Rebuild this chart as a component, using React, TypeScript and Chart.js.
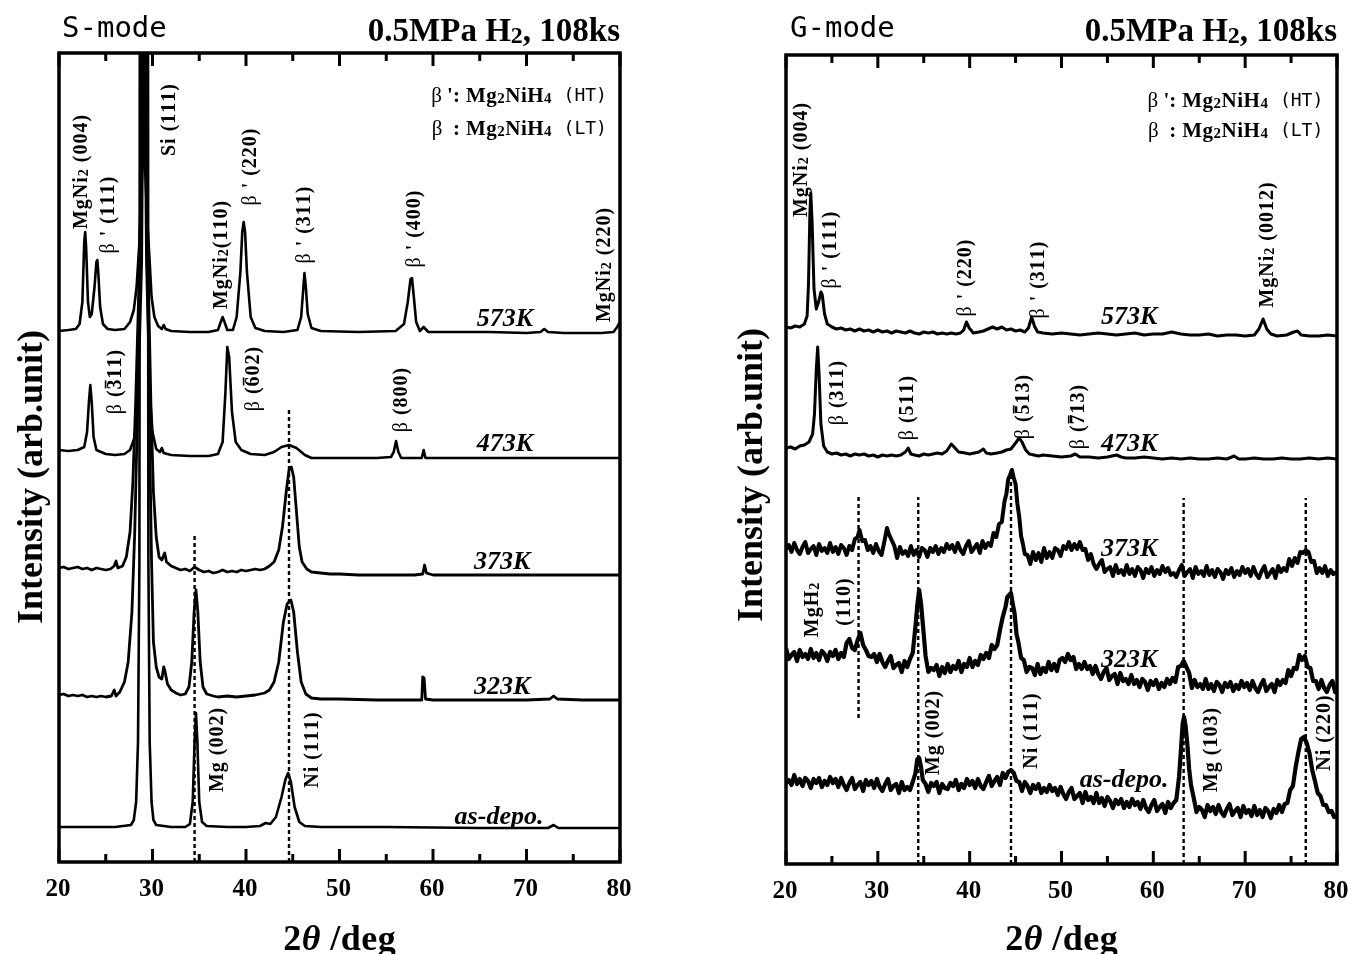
import React, { useEffect, useRef } from "react";
import { Chart, registerables } from "chart.js";
Chart.register(...registerables);

type P = [number, number];

// ---------- axis ----------
const X_MIN = 20;
const X_MAX = 80;
const Y_MAX = 809;
const MAJOR_TICKS = [20, 30, 40, 50, 60, 70, 80];
const MINOR_TICKS = [25, 35, 45, 55, 65, 75];
const TICK_LABELS = ["20", "30", "40", "50", "60", "70", "80"];

// ---------- S-mode spectra ----------
const S_573K: P[] = [
  [20, 531], [21, 532], [21.8, 533], [22.2, 538], [22.5, 560], [22.7, 620], [22.8, 630], [22.9, 615], [23.1, 560], [23.3, 545],
  [23.5, 548], [23.8, 575], [24.0, 600], [24.1, 602], [24.2, 590], [24.4, 555], [24.7, 538], [25.2, 533], [26, 532], [27, 533],
  [27.6, 540], [28.0, 552], [28.3, 575], [28.6, 620], [28.95, 700], [29.02, 1600], [29.12, 1600], [29.18, 700], [29.45, 640], [29.7, 600],
  [29.9, 565], [30.2, 545], [30.6, 536], [31.0, 533], [31.2, 537], [31.4, 533], [32, 531], [34, 530], [36, 530], [37.0, 532],
  [37.3, 540], [37.5, 545], [37.7, 540], [38.0, 532], [38.6, 532], [39.0, 545], [39.4, 590], [39.6, 630], [39.75, 640], [39.9, 630],
  [40.1, 590], [40.5, 545], [41, 534], [42, 531], [44, 530], [45.5, 532], [45.9, 545], [46.1, 570], [46.25, 589], [46.4, 575],
  [46.6, 548], [47.0, 534], [48, 531], [52, 530], [56, 531], [56.9, 538], [57.3, 560], [57.6, 583], [57.75, 584], [57.95, 565],
  [58.2, 540], [58.6, 531], [59.0, 535], [59.2, 533], [59.5, 530], [62, 530], [66, 530], [70, 529], [71.5, 530], [71.9, 533],
  [72.3, 530], [74, 529], [78, 529], [79.3, 530], [79.7, 535], [80, 540],
];
const S_473K: P[] = [
  [20, 412], [21, 411], [22, 412], [22.7, 415], [23.0, 430], [23.2, 460], [23.35, 477], [23.5, 460], [23.7, 425], [24.0, 412],
  [25, 408], [26, 407], [27, 408], [27.6, 412], [28.1, 425], [28.5, 480], [28.85, 600], [28.92, 700], [28.98, 1600], [29.2, 1600],
  [29.26, 700], [29.35, 600], [29.7, 470], [30.0, 430], [30.4, 413], [30.8, 410], [31.0, 414], [31.2, 409], [32, 407], [34, 406],
  [36, 406], [37.0, 408], [37.5, 420], [37.8, 470], [38.0, 515], [38.2, 505], [38.5, 450], [38.9, 420], [39.5, 412], [40.5, 408],
  [42, 407], [43, 410], [43.8, 415], [44.6, 417], [45.4, 414], [46.3, 407], [47, 404], [50, 404], [54, 404], [55.5, 405],
  [55.8, 410], [56.05, 421], [56.3, 410], [56.6, 404], [58.8, 404], [59.0, 412], [59.2, 404], [62, 404], [70, 404], [80, 404],
];
const S_373K: P[] = [
  [20, 294], [20.5, 295], [21, 293], [21.5, 294], [22, 295], [22.5, 293], [23, 294], [23.5, 292], [24, 294], [24.5, 293],
  [25, 292], [25.5, 293], [25.9, 296], [26.1, 301], [26.3, 294], [26.8, 296], [27.2, 305], [27.6, 330], [27.9, 380], [28.2, 460],
  [28.5, 560], [28.82, 700], [28.9, 1600], [29.28, 1600], [29.36, 700], [29.6, 560], [29.85, 450], [30.1, 370], [30.4, 325], [30.7, 305],
  [31.0, 302], [31.3, 309], [31.5, 300], [32, 296], [32.5, 294], [33, 292], [33.5, 293], [34, 291], [34.5, 295], [35, 292],
  [35.5, 290], [36, 291], [36.5, 289], [37, 290], [37.5, 292], [38, 290], [38.5, 291], [39, 290], [39.5, 292], [40, 291],
  [40.5, 292], [41, 293], [41.5, 292], [42, 293], [42.5, 296], [43, 300], [43.5, 312], [43.9, 335], [44.3, 370], [44.6, 392],
  [44.85, 395], [45.1, 385], [45.4, 350], [45.7, 315], [46.0, 300], [46.5, 293], [47, 290], [48, 289], [49, 288], [50, 288],
  [52, 287], [54, 287], [56, 287], [58, 287], [58.9, 288], [59.1, 297], [59.3, 289], [60, 287], [65, 287], [70, 287],
  [75, 287], [80, 287],
];
const S_323K: P[] = [
  [20, 167], [20.5, 168], [21, 166], [21.5, 167], [22, 166], [22.5, 167], [23, 165], [23.5, 166], [24, 165], [24.5, 166],
  [25, 165], [25.6, 166], [25.9, 172], [26.1, 166], [26.5, 170], [27.0, 180], [27.4, 200], [27.8, 250], [28.1, 330], [28.4, 450],
  [28.74, 620], [28.84, 1600], [29.36, 1600], [29.48, 600], [29.7, 420], [29.9, 300], [30.1, 220], [30.4, 195], [30.7, 185], [31.0, 183],
  [31.2, 195], [31.35, 190], [31.6, 178], [32, 172], [32.5, 169], [33, 167], [33.5, 168], [33.9, 175], [34.2, 200], [34.45, 250],
  [34.65, 272], [34.85, 250], [35.1, 200], [35.4, 175], [35.8, 168], [36.5, 166], [37, 165], [38, 166], [39, 165], [40, 166],
  [41, 167], [42, 169], [42.5, 172], [43, 180], [43.5, 200], [44.0, 240], [44.4, 258], [44.8, 262], [45.1, 250], [45.5, 210],
  [45.9, 180], [46.4, 168], [47, 164], [48, 163], [50, 163], [54, 162], [56, 162], [58, 162], [58.8, 162], [58.9, 185],
  [59.05, 184], [59.2, 163], [60, 162], [65, 162], [70, 162], [72.5, 163], [72.9, 166], [73.3, 163], [76, 162], [80, 162],
];
const S_ASDEPO: P[] = [
  [20, 35], [22, 35], [24, 35], [26, 35], [27.7, 37], [28.0, 42], [28.25, 60], [28.45, 120], [28.6, 300], [28.7, 1600],
  [29.46, 1600], [29.56, 300], [29.7, 120], [29.9, 60], [30.1, 42], [30.4, 37], [32, 35], [33.5, 35], [34.0, 38], [34.3, 60],
  [34.5, 120], [34.65, 149], [34.8, 120], [35.0, 60], [35.3, 40], [35.8, 36], [38, 35], [40, 35], [41.5, 36], [42.1, 39],
  [42.6, 38], [43.2, 45], [43.8, 65], [44.2, 82], [44.5, 89], [44.8, 80], [45.2, 55], [45.7, 40], [46.3, 36], [48, 35],
  [55, 35], [65, 34], [72.3, 34], [72.9, 37], [73.4, 34], [80, 34],
];
// reference lines: [2theta, from, to]
const S_DOTTED: [number, number, number][] = [[34.5, 0, 327], [44.6, 0, 455]];

// ---------- G-mode spectra ----------
const G_573K: P[] = [
  [20, 537], [20.5, 536], [21, 538], [21.5, 537], [22, 540], [22.3, 548], [22.45, 580], [22.6, 650], [22.7, 671], [22.85, 640],
  [23.05, 575], [23.3, 555], [23.55, 562], [23.8, 572], [23.95, 569], [24.2, 550], [24.5, 540], [25, 537], [25.5, 535], [26, 536],
  [26.5, 534], [27, 535], [27.5, 533], [28, 535], [28.5, 533], [29, 534], [29.5, 532], [30, 534], [30.5, 532], [31, 533],
  [31.5, 531], [32, 533], [32.5, 532], [33, 531], [33.5, 533], [34, 531], [34.5, 530], [35, 532], [35.5, 531], [36, 532],
  [36.5, 530], [37, 531], [37.5, 530], [38, 531], [38.5, 530], [39, 531], [39.35, 534], [39.65, 542], [39.95, 536], [40.4, 531],
  [41, 532], [41.5, 533], [42, 535], [42.5, 537], [43, 535], [43.5, 537], [44, 534], [44.5, 535], [45, 533], [45.5, 534],
  [46, 532], [46.4, 536], [46.75, 547], [47.05, 538], [47.4, 532], [48, 531], [49, 530], [50, 531], [51, 530], [52, 529],
  [53, 530], [54, 531], [55, 530], [56, 529], [57, 530], [58, 531], [59, 529], [60, 530], [61, 530], [62, 532],
  [63, 530], [64, 529], [65, 529], [66, 530], [67, 528], [68, 529], [69, 529], [70, 528], [71, 529], [71.5, 535],
  [71.95, 545], [72.35, 535], [72.8, 530], [73.5, 528], [74.5, 529], [75.3, 532], [75.7, 533], [76.1, 529], [77, 528], [78, 528],
  [79, 529], [80, 528],
];
const G_473K: P[] = [
  [20, 416], [20.5, 417], [21, 415], [21.5, 418], [22, 419], [22.5, 422], [22.9, 430], [23.1, 450], [23.3, 495], [23.45, 517],
  [23.6, 490], [23.8, 440], [24.1, 418], [24.5, 412], [25, 410], [25.5, 411], [26, 409], [26.5, 410], [27, 408], [27.5, 410],
  [28, 409], [28.5, 410], [29, 408], [29.5, 409], [30, 407], [30.5, 409], [31, 408], [31.5, 409], [32, 408], [32.5, 409],
  [33.0, 412], [33.3, 416], [33.6, 410], [34, 409], [34.5, 408], [35, 410], [35.5, 409], [36, 410], [36.5, 411], [37, 410],
  [37.5, 413], [38.0, 420], [38.4, 416], [38.8, 412], [39.5, 411], [40, 410], [40.5, 411], [41, 412], [41.5, 415], [41.8, 411],
  [42.3, 410], [43, 411], [43.5, 412], [44, 414], [44.5, 415], [45.0, 421], [45.4, 426], [45.7, 422], [46.1, 414], [46.5, 410],
  [47, 409], [47.5, 408], [48, 409], [49, 408], [50, 407], [51, 408], [51.5, 410], [52, 407], [53, 407], [54, 406],
  [55, 407], [56, 409], [56.5, 407], [57, 406], [58, 406], [59, 407], [60, 406], [61, 405], [62, 406], [63, 405],
  [64, 406], [65, 405], [66, 405], [67, 406], [68, 405], [68.8, 408], [69.3, 405], [70, 405], [71, 406], [72, 405],
  [73, 405], [74, 406], [75, 405], [76, 405], [77, 406], [78, 405], [79, 406], [80, 405],
];
const G_373K: P[] = [
  [20.0, 315], [20.3, 319], [20.6, 312], [20.9, 321], [21.2, 314], [21.5, 310], [21.8, 317], [22.1, 322], [22.4, 311], [22.7, 315],
  [23.0, 318], [23.3, 309], [23.6, 320], [23.9, 313], [24.2, 316], [24.5, 311], [24.8, 321], [25.1, 312], [25.4, 317], [25.7, 310],
  [26.0, 319], [26.3, 316], [26.6, 309], [26.9, 318], [27.2, 314], [27.5, 325], [27.8, 327], [28.0, 334], [28.3, 323], [28.6, 324],
  [28.9, 314], [29.2, 318], [29.5, 311], [29.8, 320], [30.1, 313], [30.4, 309], [30.7, 322], [31.0, 336], [31.2, 330], [31.5, 324],
  [31.8, 318], [32.1, 306], [32.4, 317], [32.7, 310], [33.0, 313], [33.3, 308], [33.6, 318], [33.9, 309], [34.2, 314], [34.5, 307],
  [34.8, 316], [35.1, 314], [35.4, 307], [35.7, 316], [36.0, 312], [36.3, 318], [36.6, 310], [36.9, 316], [37.2, 312], [37.5, 320],
  [37.8, 315], [38.1, 319], [38.4, 312], [38.7, 321], [39.0, 314], [39.3, 310], [39.6, 318], [39.9, 323], [40.2, 312], [40.5, 316],
  [40.8, 320], [41.1, 311], [41.4, 323], [41.7, 316], [42.0, 321], [42.3, 318], [42.6, 331], [42.9, 327], [43.2, 340], [43.5, 342],
  [43.8, 363], [44.0, 370], [44.2, 385], [44.4, 389], [44.6, 394], [44.8, 386], [45.0, 380], [45.2, 360], [45.4, 347], [45.6, 328],
  [45.8, 320], [46.0, 310], [46.3, 309], [46.6, 300], [46.9, 312], [47.2, 304], [47.5, 311], [47.8, 302], [48.1, 316], [48.4, 306],
  [48.7, 312], [49.0, 306], [49.3, 316], [49.6, 314], [49.9, 308], [50.2, 318], [50.5, 315], [50.8, 322], [51.1, 314], [51.4, 320],
  [51.7, 315], [52.0, 322], [52.3, 314], [52.6, 315], [52.9, 304], [53.2, 310], [53.5, 300], [53.8, 295], [54.1, 300], [54.4, 304],
  [54.7, 292], [55.0, 295], [55.3, 297], [55.6, 288], [55.9, 299], [56.2, 291], [56.5, 294], [56.8, 289], [57.1, 299], [57.4, 290],
  [57.7, 295], [58.0, 288], [58.3, 297], [58.6, 294], [58.9, 286], [59.2, 295], [59.5, 291], [59.8, 297], [60.1, 288], [60.4, 294],
  [60.7, 290], [61.0, 298], [61.3, 292], [61.6, 296], [61.9, 289], [62.2, 291], [62.5, 287], [62.8, 294], [63.1, 299], [63.4, 288],
  [63.7, 292], [64.0, 295], [64.3, 286], [64.6, 297], [64.9, 290], [65.2, 293], [65.5, 288], [65.8, 298], [66.1, 289], [66.4, 294],
  [66.7, 287], [67.0, 295], [67.3, 292], [67.6, 285], [67.9, 294], [68.2, 290], [68.5, 296], [68.8, 287], [69.1, 293], [69.4, 289],
  [69.7, 297], [70.0, 291], [70.3, 295], [70.6, 288], [70.9, 297], [71.2, 290], [71.5, 286], [71.8, 293], [72.1, 298], [72.4, 287],
  [72.7, 291], [73.0, 295], [73.3, 286], [73.6, 298], [73.9, 292], [74.2, 296], [74.5, 293], [74.8, 305], [75.1, 298], [75.4, 306],
  [75.7, 301], [76.0, 312], [76.3, 311], [76.6, 314], [76.9, 312], [77.2, 302], [77.5, 303], [77.8, 291], [78.1, 296], [78.4, 291],
  [78.7, 298], [79.0, 288], [79.3, 294], [79.6, 290], [80.0, 292],
];
const G_323K: P[] = [
  [20.0, 216], [20.3, 205], [20.6, 209], [20.9, 212], [21.2, 203], [21.5, 214], [21.8, 207], [22.1, 210], [22.4, 205], [22.7, 215],
  [23.0, 206], [23.3, 211], [23.6, 204], [23.9, 213], [24.2, 210], [24.5, 203], [24.8, 212], [25.1, 208], [25.4, 214], [25.7, 205],
  [26.0, 211], [26.3, 207], [26.6, 221], [26.9, 225], [27.2, 216], [27.5, 214], [27.8, 224], [28.1, 231], [28.4, 219], [28.7, 214],
  [29.0, 208], [29.3, 207], [29.6, 210], [29.9, 202], [30.2, 210], [30.5, 202], [30.8, 197], [31.1, 203], [31.4, 208], [31.7, 196],
  [32.0, 199], [32.3, 201], [32.6, 192], [32.9, 203], [33.2, 197], [33.5, 205], [33.8, 211], [34.1, 238], [34.3, 259], [34.5, 274],
  [34.7, 261], [34.9, 240], [35.2, 208], [35.5, 192], [35.8, 196], [36.1, 194], [36.4, 199], [36.7, 188], [37.0, 197], [37.3, 191],
  [37.6, 200], [37.9, 192], [38.2, 198], [38.5, 195], [38.8, 203], [39.1, 192], [39.4, 200], [39.7, 197], [40.0, 206], [40.3, 197],
  [40.6, 203], [40.9, 199], [41.2, 209], [41.5, 205], [41.8, 211], [42.1, 206], [42.4, 219], [42.7, 215], [43.0, 219], [43.3, 234],
  [43.6, 247], [43.9, 257], [44.1, 267], [44.3, 269], [44.5, 271], [44.7, 260], [44.9, 250], [45.1, 230], [45.3, 222], [45.6, 206],
  [45.9, 204], [46.2, 192], [46.5, 197], [46.8, 196], [47.1, 189], [47.4, 200], [47.7, 190], [48.0, 196], [48.3, 192], [48.6, 202],
  [48.9, 194], [49.2, 200], [49.5, 193], [49.8, 204], [50.1, 206], [50.4, 202], [50.7, 210], [51.0, 204], [51.3, 207], [51.6, 195],
  [51.9, 200], [52.2, 195], [52.5, 202], [52.8, 195], [53.1, 198], [53.4, 190], [53.7, 198], [54.0, 190], [54.3, 185], [54.6, 192],
  [54.9, 196], [55.2, 184], [55.5, 188], [55.8, 190], [56.1, 180], [56.4, 191], [56.7, 183], [57.0, 185], [57.3, 180], [57.6, 189],
  [57.9, 180], [58.2, 184], [58.5, 177], [58.8, 185], [59.1, 182], [59.4, 174], [59.7, 183], [60.0, 179], [60.3, 184], [60.6, 175],
  [60.9, 181], [61.2, 177], [61.5, 185], [61.8, 180], [62.1, 186], [62.4, 182], [62.7, 197], [63.0, 198], [63.3, 203], [63.6, 197],
  [63.9, 191], [64.2, 176], [64.5, 184], [64.8, 177], [65.1, 180], [65.4, 175], [65.7, 185], [66.0, 175], [66.3, 180], [66.6, 173],
  [66.9, 182], [67.2, 179], [67.5, 172], [67.8, 181], [68.1, 177], [68.4, 182], [68.7, 173], [69.0, 179], [69.3, 175], [69.6, 183],
  [69.9, 177], [70.2, 181], [70.5, 174], [70.8, 183], [71.1, 176], [71.4, 172], [71.7, 179], [72.0, 184], [72.3, 173], [72.6, 177],
  [72.9, 180], [73.2, 172], [73.5, 184], [73.8, 179], [74.1, 184], [74.4, 181], [74.7, 194], [75.0, 188], [75.3, 196], [75.6, 195],
  [75.9, 209], [76.2, 204], [76.5, 208], [76.8, 197], [77.1, 196], [77.4, 183], [77.7, 183], [78.0, 175], [78.3, 184], [78.6, 176],
  [78.9, 172], [79.2, 179], [79.5, 183], [79.8, 172], [80.0, 176],
];
const G_ASDEPO: P[] = [
  [20.0, 81], [20.3, 84], [20.6, 79], [20.9, 89], [21.2, 80], [21.5, 85], [21.8, 78], [22.1, 86], [22.4, 83], [22.7, 76],
  [23.0, 85], [23.3, 81], [23.6, 86], [23.9, 77], [24.2, 83], [24.5, 79], [24.8, 87], [25.1, 81], [25.4, 85], [25.7, 77],
  [26.0, 86], [26.3, 79], [26.6, 74], [26.9, 81], [27.2, 86], [27.5, 75], [27.8, 79], [28.1, 82], [28.4, 73], [28.7, 84],
  [29.0, 79], [29.3, 83], [29.6, 76], [29.9, 85], [30.2, 77], [30.5, 73], [30.8, 80], [31.1, 85], [31.4, 74], [31.7, 78],
  [32.0, 80], [32.3, 71], [32.6, 82], [32.9, 74], [33.2, 77], [33.5, 74], [33.8, 82], [34.1, 91], [34.3, 105], [34.5, 106],
  [34.7, 97], [34.9, 84], [35.2, 80], [35.5, 72], [35.8, 81], [36.1, 78], [36.4, 82], [36.7, 71], [37.0, 80], [37.3, 76],
  [37.6, 75], [37.9, 81], [38.2, 78], [38.5, 84], [38.8, 74], [39.1, 80], [39.4, 76], [39.7, 85], [40.0, 79], [40.3, 83],
  [40.6, 76], [40.9, 85], [41.2, 78], [41.5, 75], [41.8, 82], [42.1, 88], [42.4, 78], [42.7, 83], [43.0, 87], [43.3, 79],
  [43.6, 91], [43.9, 86], [44.2, 92], [44.5, 94], [44.8, 91], [45.1, 83], [45.4, 82], [45.7, 73], [46.0, 82], [46.3, 78],
  [46.6, 71], [46.9, 79], [47.2, 75], [47.5, 80], [47.8, 71], [48.1, 76], [48.4, 72], [48.7, 79], [49.0, 73], [49.3, 76],
  [49.6, 69], [49.9, 77], [50.2, 70], [50.5, 65], [50.8, 72], [51.1, 76], [51.4, 65], [51.7, 68], [52.0, 71], [52.3, 61],
  [52.6, 72], [52.9, 64], [53.2, 67], [53.5, 61], [53.8, 71], [54.1, 61], [54.4, 66], [54.7, 58], [55.0, 67], [55.3, 63],
  [55.6, 56], [55.9, 64], [56.2, 60], [56.5, 65], [56.8, 56], [57.1, 62], [57.4, 57], [57.7, 65], [58.0, 59], [58.3, 62],
  [58.6, 55], [58.9, 64], [59.2, 56], [59.5, 52], [59.8, 59], [60.1, 64], [60.4, 53], [60.7, 57], [61.0, 60], [61.3, 51],
  [61.6, 62], [61.9, 56], [62.2, 61], [62.5, 64], [62.8, 87], [63.0, 113], [63.2, 141], [63.35, 147], [63.5, 139], [63.7, 120],
  [63.9, 95], [64.1, 79], [64.4, 66], [64.7, 52], [65.0, 57], [65.3, 54], [65.6, 47], [65.9, 59], [66.2, 53], [66.5, 57],
  [66.8, 50], [67.1, 59], [67.4, 52], [67.7, 48], [68.0, 55], [68.3, 60], [68.6, 49], [68.9, 53], [69.2, 56], [69.5, 47],
  [69.8, 58], [70.1, 51], [70.4, 54], [70.7, 48], [71.0, 58], [71.3, 49], [71.6, 54], [71.9, 47], [72.2, 56], [72.5, 53],
  [72.8, 46], [73.1, 55], [73.4, 51], [73.7, 59], [74.0, 52], [74.3, 60], [74.6, 61], [74.9, 74], [75.2, 78], [75.5, 97],
  [75.8, 112], [76.1, 125], [76.4, 127], [76.7, 121], [77.0, 111], [77.3, 94], [77.6, 83], [77.9, 71], [78.2, 68], [78.5, 59],
  [78.8, 59], [79.1, 52], [79.4, 53], [79.7, 47], [80.0, 48],
];
const G_DOTTED: [number, number, number][] = [[27.9, 146, 367], [34.4, 0, 367], [44.5, 0, 394], [63.3, 0, 366], [76.6, 0, 366]];

// ---------- annotations ----------
type Lab = { x: number; y: number; t: string };
const S_PEAK_LABELS: Lab[] = [
  { x: 22.25, y: 690, t: "MgNi_2 (004)" },
  { x: 25.13, y: 647, t: "β ' (111)" },
  { x: 31.66, y: 742, t: "Si (111)" },
  { x: 37.22, y: 607, t: "MgNi_2(110)" },
  { x: 40.32, y: 695, t: "β ' (220)" },
  { x: 46.1, y: 637, t: "β ' (311)" },
  { x: 57.86, y: 633, t: "β ' (400)" },
  { x: 78.18, y: 597, t: "MgNi_2 (220)" },
  { x: 25.88, y: 480, t: "β (~311)" },
  { x: 40.64, y: 483, t: "β (~602)" },
  { x: 56.47, y: 462, t: "β (800)" },
  { x: 36.79, y: 112, t: "Mg (002)" },
  { x: 46.95, y: 112, t: "Ni (111)" },
];
const S_TEMP_LABELS: Lab[] = [
  { x: 67.7, y: 545, t: "573K" },
  { x: 67.7, y: 420, t: "473K" },
  { x: 67.4, y: 302, t: "373K" },
  { x: 67.4, y: 177, t: "323K" },
  { x: 67.06, y: 47, t: "as-depo." },
];
const G_PEAK_LABELS: Lab[] = [
  { x: 21.53, y: 704, t: "MgNi_2 (004)" },
  { x: 24.68, y: 614, t: "β ' (111)" },
  { x: 39.39, y: 586, t: "β ' (220)" },
  { x: 47.34, y: 584, t: "β ' (311)" },
  { x: 72.29, y: 619, t: "MgNi_2 (0012)" },
  { x: 25.45, y: 471, t: "β (311)" },
  { x: 33.07, y: 456, t: "β (511)" },
  { x: 45.71, y: 457, t: "β (~513)" },
  { x: 51.7, y: 447, t: "β (~713)" },
  { x: 22.72, y: 254, t: "MgH_2" },
  { x: 26.21, y: 262, t: "(110)" },
  { x: 35.9, y: 131, t: "Mg (002)" },
  { x: 46.58, y: 133, t: "Ni (111)" },
  { x: 66.19, y: 114, t: "Mg (103)" },
  { x: 78.5, y: 131, t: "Ni (220)" },
];
const G_TEMP_LABELS: Lab[] = [
  { x: 57.36, y: 549, t: "573K" },
  { x: 57.36, y: 422, t: "473K" },
  { x: 57.36, y: 317, t: "373K" },
  { x: 57.36, y: 206, t: "323K" },
  { x: 56.82, y: 86, t: "as-depo." },
];
const LEGEND_ROWS = [
  { sym: "β ':", phase: "Mg_2NiH_4", tag: "(HT)" },
  { sym: "β  :", phase: "Mg_2NiH_4", tag: "(LT)" },
];

const SERIF = "'Liberation Serif', 'Times New Roman', serif";
const MONO = "'DejaVu Sans Mono', monospace";

function drawMarkup(
  ctx: CanvasRenderingContext2D,
  text: string,
  x: number,
  y: number,
  o: { size: number; italic?: boolean; align?: "left" | "center" | "right"; rot?: number; spacing?: number; family?: string; weight?: string }
): number {
  const fam = o.family ?? SERIF;
  const glyphs: { ch: string; font: string; dy: number; bar: boolean; w: number }[] = [];
  let sub = false, bar = false, ital = false;
  for (const ch of text) {
    if (ch === "_") { sub = true; continue; }
    if (ch === "~") { bar = true; continue; }
    if (ch === "*") { ital = true; continue; }
    const size = sub ? Math.round(o.size * 0.72) : o.size;
    const weight = ch === "β" ? "normal" : (o.weight ?? "bold");
    const font = `${o.italic || ital ? "italic " : ""}${weight} ${size}px ${fam}`;
    ctx.font = font;
    glyphs.push({ ch, font, dy: sub ? o.size * 0.06 : 0, bar, w: ctx.measureText(ch).width });
    sub = false; bar = false; ital = false;
  }
  const sp = o.spacing ?? 0;
  const total = glyphs.reduce((s, g) => s + g.w + sp, 0) - sp;
  let cx = o.align === "right" ? -total : o.align === "left" ? 0 : -total / 2;
  ctx.save();
  ctx.translate(x, y);
  ctx.rotate(o.rot ?? 0);
  ctx.textBaseline = "alphabetic";
  ctx.textAlign = "left";
  ctx.fillStyle = "#000";
  const base = o.size * 0.34;
  for (const g of glyphs) {
    ctx.font = g.font;
    ctx.fillText(g.ch, cx, base + g.dy);
    if (g.bar) ctx.fillRect(cx + 1, base - o.size * 0.8, g.w - 2, 1.6);
    cx += g.w + sp;
  }
  ctx.restore();
  return total;
}

type PanelDef = {
  id: string;
  pageLeft: number;
  width: number;
  pad: { left: number; right: number; top: number; bottom: number };
  series: P[][];
  lineWidths: number[];
  dotted: [number, number, number][];
  peakLabels: Lab[];
  tempLabels: Lab[];
  legendX: number;
  legendY: number[];
  mode: string;
  modeX: number;
  yTitleX: number;
  yTitleY: number;
};

const PANELS: PanelDef[] = [
  {
    id: "S", pageLeft: 0, width: 680, pad: { left: 59, right: 60, top: 53, bottom: 92 },
    series: [S_573K, S_473K, S_373K, S_323K, S_ASDEPO], lineWidths: [2.6, 2.6, 2.8, 2.8, 2.6], dotted: S_DOTTED,
    peakLabels: S_PEAK_LABELS, tempLabels: S_TEMP_LABELS, legendX: 78.6, legendY: [767, 734],
    mode: "S-mode", modeX: 62, yTitleX: 30, yTitleY: 477,
  },
  {
    id: "G", pageLeft: 680, width: 668, pad: { left: 106, right: 11, top: 55, bottom: 90 },
    series: [G_573K, G_473K, G_373K, G_323K, G_ASDEPO], lineWidths: [3.0, 3.0, 4.0, 4.2, 4.2], dotted: G_DOTTED,
    peakLabels: G_PEAK_LABELS, tempLabels: G_TEMP_LABELS, legendX: 78.5, legendY: [764, 734],
    mode: "G-mode", modeX: 110, yTitleX: 70, yTitleY: 475,
  },
];

function Panel({ def }: { def: PanelDef }) {
  const ref = useRef<HTMLCanvasElement>(null);
  useEffect(() => {
    const canvas = ref.current;
    if (!canvas) return;
    const datasets: any[] = def.series.map((s, i) => ({
      data: s.map(([x, y]) => ({ x, y })),
      borderColor: "#000",
      borderWidth: def.lineWidths[i],
      pointRadius: 0,
      tension: 0,
      fill: false,
      borderJoinStyle: "round",
    }));
    def.dotted.forEach(([x, a, b]) => {
      datasets.push({
        data: [{ x, y: a }, { x, y: b }],
        borderColor: "#000",
        borderWidth: 2.4,
        borderDash: [4, 3],
        pointRadius: 0,
        fill: false,
      });
    });
    const deco = {
      id: "deco" + def.id,
      afterDatasetsDraw(chart: any) {
        const ctx: CanvasRenderingContext2D = chart.ctx;
        const { left, right, top, bottom } = chart.chartArea;
        const xs = chart.scales.x;
        const ys = chart.scales.y;
        ctx.save();
        ctx.strokeStyle = "#000";
        ctx.fillStyle = "#000";
        // ticks
        ctx.lineWidth = 3;
        const tick = (v: number, len: number) => {
          const px = xs.getPixelForValue(v);
          ctx.beginPath();
          ctx.moveTo(px, bottom);
          ctx.lineTo(px, bottom - len);
          ctx.moveTo(px, top);
          ctx.lineTo(px, top + len);
          ctx.stroke();
        };
        MAJOR_TICKS.forEach((v) => tick(v, 13));
        MINOR_TICKS.forEach((v) => tick(v, 8));
        // frame
        ctx.lineWidth = 3.5;
        ctx.strokeRect(left, top, right - left, bottom - top);
        // tick labels
        MAJOR_TICKS.forEach((v, i) => {
          drawMarkup(ctx, TICK_LABELS[i], xs.getPixelForValue(v) - 1, bottom + 25, { size: 25 });
        });
        // axis titles
        drawMarkup(ctx, "2*θ /deg", (left + right) / 2, 938, { size: 36, spacing: 0.5 });
        drawMarkup(ctx, "Intensity (arb.unit)", def.yTitleX, def.yTitleY, { size: 36, rot: -Math.PI / 2 });
        // headers
        ctx.font = `29px ${MONO}`;
        ctx.textBaseline = "middle";
        ctx.textAlign = "left";
        ctx.fillText(def.mode, def.modeX, 29);
        drawMarkup(ctx, "0.5MPa H_2, 108ks", right, 30, { size: 33, align: "right" });
        // peak labels
        def.peakLabels.forEach((l) => {
          drawMarkup(ctx, l.t, xs.getPixelForValue(l.x), ys.getPixelForValue(l.y), { size: 20, rot: -Math.PI / 2, spacing: 1 });
        });
        def.tempLabels.forEach((l) => {
          drawMarkup(ctx, l.t, xs.getPixelForValue(l.x), ys.getPixelForValue(l.y), { size: 26, italic: true });
        });
        // legend
        LEGEND_ROWS.forEach((row, i) => {
          const rx = xs.getPixelForValue(def.legendX);
          const ry = ys.getPixelForValue(def.legendY[i]);
          const wTag = drawMarkup(ctx, row.tag, rx, ry, { size: 18, align: "right", family: MONO, weight: "normal" });
          const r2 = rx - wTag - 12;
          const wPh = drawMarkup(ctx, row.phase, r2, ry, { size: 21, align: "right", spacing: 0.5 });
          drawMarkup(ctx, row.sym, r2 - wPh - 6, ry, { size: 21, align: "right" });
        });
        ctx.restore();
      },
    };
    const chart = new Chart(canvas, {
      type: "line",
      data: { datasets },
      options: {
        animation: false,
        responsive: false,
        maintainAspectRatio: false,
        events: [],
        layout: { padding: def.pad },
        plugins: { legend: { display: false }, tooltip: { enabled: false } },
        scales: {
          x: { type: "linear", min: X_MIN, max: X_MAX, display: false },
          y: { type: "linear", min: 0, max: Y_MAX, display: false },
        },
      },
      plugins: [deco],
    } as any);
    return () => chart.destroy();
  }, [def]);
  return (
    <canvas
      ref={ref}
      width={def.width}
      height={954}
      style={{ position: "absolute", left: def.pageLeft, top: 0, width: def.width, height: 954 }}
    />
  );
}

export default function App() {
  return (
    <div style={{ position: "absolute", left: 0, top: 0, width: 1348, height: 954, background: "#fff", overflow: "hidden" }}>
      {PANELS.map((p) => (
        <Panel key={p.id} def={p} />
      ))}
    </div>
  );
}
